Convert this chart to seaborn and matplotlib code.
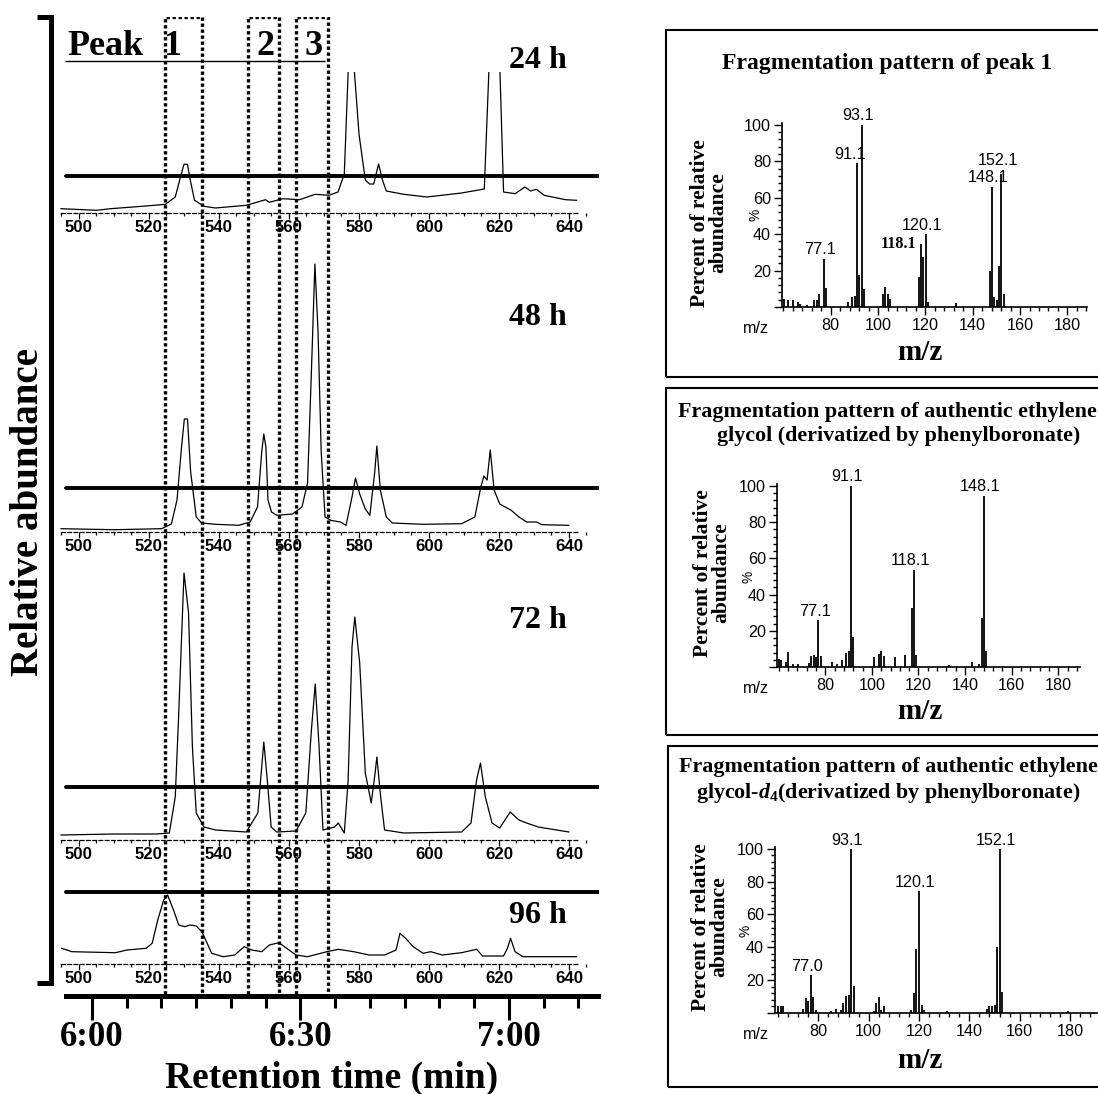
import matplotlib
matplotlib.use("Agg")
import matplotlib.pyplot as plt
import matplotlib.ticker as ticker
from matplotlib import font_manager
from matplotlib.lines import Line2D
from matplotlib.patches import Rectangle
import pandas as pd
import seaborn as sns

# ---------------- chromatograms (scan number, abundance) ----------------
trace_24h = [(494.8, 4.3), (505, 2.7), (509, 4.3), (518, 6.7), (521.5, 7.7), (524.7, 8.7),
             (527.5, 16), (529, 36), (530, 48.7), (531, 48.7), (531.8, 32.7), (533, 12.7),
             (535.7, 6.7), (539, 5), (547.8, 7.7), (553.3, 13.3), (554.4, 10.7), (558.2, 14.3),
             (563, 13.3), (567.5, 18.7), (571.4, 17.7), (574, 21), (575.8, 39), (577, 150),
             (578.5, 150), (580, 79), (581.8, 33), (583, 29), (584.2, 29), (585.6, 49),
             (586.7, 33), (587.8, 22), (592.8, 18.7), (599.4, 16), (609.3, 20), (615.8, 24),
             (617.2, 150), (620.2, 150), (621.3, 21), (624.6, 19.3), (627.4, 26), (629, 22),
             (630.7, 23.7), (632.9, 17.7), (639, 13.3), (642.2, 12.7)]
trace_48h = [(494.8, 3.3), (510, 2.3), (523.6, 3.3), (526.4, 8), (528, 32), (529.3, 85),
             (530.1, 113), (531.0, 113), (531.9, 60), (533.5, 15), (535, 9), (539, 7.7),
             (545.6, 6.7), (548.9, 10), (551, 25), (552.2, 80), (552.8, 98), (553.4, 85),
             (554, 32), (555, 20), (556.5, 16.7), (561, 18), (563.7, 25), (565.3, 49),
             (566.4, 160), (567.4, 268), (568.3, 200), (569.2, 80), (570.3, 15), (571.9, 11.7),
             (574.7, 10), (576.3, 6.7), (578, 35), (579, 54), (580.2, 38), (581.8, 23),
             (583.1, 16.7), (584.5, 60), (585.1, 86), (586.1, 42), (587.8, 15), (589.5, 9),
             (598.3, 7.7), (609.3, 8.3), (613.1, 15), (614.8, 45), (615.7, 56), (616.6, 52),
             (617.5, 82), (618.6, 42), (620.2, 28), (623.5, 21.7), (625.7, 15), (627.9, 10),
             (630.7, 10), (632.3, 7.3), (640, 6.7)]
trace_72h = [(494.8, 5), (510, 6), (522, 6), (525.8, 7), (527.5, 43), (528.5, 127),
             (530.0, 267), (531.3, 227), (532.4, 93), (533.5, 27), (535.7, 13), (539, 10),
             (547.8, 8), (551.1, 27), (552.8, 98), (553.8, 60), (554.9, 13), (556.5, 8),
             (562, 9), (564.8, 27), (566.4, 110), (567.5, 156), (568.6, 93), (569.7, 10),
             (573, 13), (574.1, 17), (575.8, 7), (576.9, 60), (578, 193), (578.8, 223),
             (580.2, 177), (581.8, 67), (583.5, 37), (584.6, 67), (585.1, 83), (586.2, 43),
             (587.3, 10), (592.8, 7), (609.3, 8), (612, 17), (613.6, 60), (614.7, 77),
             (616.1, 43), (618, 17), (620.2, 12), (623.2, 28), (625.7, 20), (627.9, 17),
             (631.2, 13), (640, 8)]
trace_96h = [(495, 15.7), (498, 12.3), (510.4, 11.3), (513.7, 14), (519.2, 15.7), (520.9, 20.7),
             (522.5, 44), (524.2, 64), (525.3, 69), (527, 54), (528.5, 39), (530.2, 37.3),
             (531.8, 39), (533.5, 38), (535.1, 32.3), (536.2, 24), (537.9, 10.7), (541.2, 7.3),
             (544.5, 9), (547.2, 17.3), (549.4, 14), (552.2, 12.3), (554.4, 19), (557.1, 21.3),
             (558.7, 17.3), (562, 9), (565.3, 7.3), (570.8, 12.3), (574.1, 14.7), (578.5, 12.3),
             (582.9, 9), (587.3, 9), (590.6, 14), (591.7, 30.7), (593.3, 25.7), (595.5, 17.3),
             (598.3, 10.7), (600.5, 12.3), (603.8, 9), (609.3, 11.3), (613.6, 14.7), (615.3, 8),
             (621.3, 8), (622.4, 15.7), (623.3, 25.7), (624.6, 12.3), (626.8, 7.3), (642.2, 7.3)]
hours = ['24 h', '48 h', '72 h', '96 h']
threshold = [37, 44, 53, 72]          # the thick horizontal line of each trace
window_lo = [524.5, 548.3, 562.0]     # dotted windows for peaks 1-3 (scan)
window_hi = [535.1, 557.1, 571.1]
peak_names = ['1', '2', '3']
chrom_ticks = [500, 520, 540, 560, 580, 600, 620, 640]

time_ticks = [360, 390, 420]          # seconds
time_labels = ['6:00', '6:30', '7:00']

# ---------------- mass spectra (m/z, % relative abundance) ----------------
mz_peak1 = [60.1, 62.1, 64.1, 66.1, 67.1, 70.1, 73.1, 74.1, 75.1, 77.1, 78.1, 87.1, 89.1, 90.1,
            91.1, 92.1, 93.1, 94.1, 102.1, 103.1, 104.1, 105.1, 117.1, 118.1, 119.1, 120.1,
            121.1, 133.1, 147.1, 148.1, 149.1, 150.1, 151.1, 152.1, 153.1]
ab_peak1 = [4.5, 3.6, 4, 2.7, 1.8, 1, 3.6, 4, 7, 26.6, 10.5, 2.7, 5.4, 6,
            78.8, 17.6, 100, 10, 7, 11, 7, 4.5, 16.7, 34.8, 27.5, 40,
            3, 2.2, 20, 66, 5.4, 3.6, 22.6, 73, 7]
ann_peak1 = [77.1, 91.1, 93.1, 120.1, 148.1, 152.1]
bold_ann_peak1 = [118.1]

mz_eg = [60.1, 61.1, 63.1, 64.1, 66.1, 68.1, 73.1, 74.1, 75.1, 76.1, 77.1, 78.1, 83.1, 85.1,
         87.1, 89.1, 90.1, 91.1, 92.1, 101.1, 103.1, 104.1, 105.1, 110.1, 114.1, 117.1, 118.1,
         119.1, 133.1, 143.1, 146.1, 147.1, 148.1, 149.1]
ab_eg = [4.6, 3.6, 2.5, 8.2, 1.8, 1.5, 2, 5.8, 6.4, 5.5, 25.9, 5.8, 2.7, 1.5,
         3.6, 8, 9, 100, 16.8, 5.5, 7, 9.1, 5.8, 5.5, 6.4, 32.8, 53.8,
         6.4, 1, 2.7, 1.5, 27, 94.5, 9.1]
ann_eg = [77.1, 91.1, 118.1, 148.1]

mz_egd4 = [64.0, 65.0, 66.0, 74.0, 75.0, 76.0, 77.0, 78.0, 79.0, 85.0, 87.0, 89.0, 90.0, 91.0,
           92.0, 93.1, 94.0, 102.0, 103.0, 104.0, 105.0, 106.0, 117.0, 118.0, 119.0, 120.1,
           121.0, 122.0, 131.0, 147.0, 148.0, 149.0, 150.0, 151.0, 152.1, 153.0, 179.0]
ab_egd4 = [4, 4.4, 4.4, 2.4, 9, 7, 23, 10, 2, 1.5, 2.4, 2, 6, 10.4,
           11, 100, 16.4, 1.5, 6, 9.6, 2, 4, 2, 12.4, 39, 74.4,
           5, 2, 1, 2.4, 4, 4, 5, 40.4, 100, 13, 1]
ann_egd4 = [77.0, 93.1, 120.1, 152.1]

mz_ticks = [80, 100, 120, 140, 160, 180]
pct_ticks = [0, 20, 40, 60, 80, 100]
titles_eg = ['Fragmentation pattern of authentic ethylene',
             'glycol (derivatized by phenylboronate)']
titles_egd4 = ['Fragmentation pattern of authentic ethylene',
               r'glycol-$\mathit{d}_4$(derivatized by phenylboronate)']

# label nudges (m/z, %) where the default spot would collide
label_nudge = {91.1: (-1.4, 0.0), 152.1: (0.0, 2.5)}


def has_font(name):
    return any(f.name == name for f in font_manager.fontManager.ttflist)


SERIF = 'Liberation Serif'
if has_font('Liberation Sans Narrow'):
    NARROW, NS = 'Liberation Sans Narrow', 1.0
else:
    NARROW, NS = 'Liberation Sans', 0.86

sns.set_theme(style='white')
plt.rcParams['font.family'] = [SERIF, 'DejaVu Serif']
plt.rcParams['mathtext.fontset'] = 'custom'
plt.rcParams['mathtext.rm'] = 'Liberation Serif:bold'
plt.rcParams['mathtext.it'] = 'Liberation Serif:italic:bold'
plt.rcParams['mathtext.bf'] = 'Liberation Serif:bold'

W, H = 1098, 1094
fig = plt.figure(figsize=(W / 100, H / 100), dpi=100)
fig.patch.set_facecolor('white')


def px_axes(x0, y0, x1, y1):
    ax = fig.add_axes([x0 / W, 1 - y1 / H, (x1 - x0) / W, (y1 - y0) / H])
    ax.patch.set_visible(False)
    return ax


def px_text(x, y, s, **kw):
    kw.setdefault('fontweight', 'bold')
    return fig.text(x / W, 1 - y / H, s, color='black', **kw)


def px_line(xs, ys, lw):
    fig.add_artist(Line2D([x / W for x in xs], [1 - y / H for y in ys], color='black',
                          linewidth=lw, solid_joinstyle='miter', solid_capstyle='butt'))


# ---------------- left: chromatograms ----------------
SCAN_LIM = (494.5, 648.6)
CH_X0, CH_X1 = 59.75, 599.1


def chrom_panel(trace, level, top_px, axis_px):
    ax = px_axes(CH_X0, top_px, CH_X1, axis_px)
    df = pd.DataFrame(trace, columns=['scan', 'abundance'])
    sns.lineplot(data=df, x='scan', y='abundance', ax=ax, color='black', linewidth=0.9,
                 estimator=None, sort=False)
    ax.axhline(level, xmin=0.012, color='black', linewidth=2.8)
    ax.set_xlim(SCAN_LIM)
    ax.set_ylim(0, axis_px - top_px)
    for side in ['top', 'right', 'left']:
        ax.spines[side].set_visible(False)
    sp = ax.spines['bottom']
    sp.set_linestyle((0, (3, 2)))
    sp.set_linewidth(0.9)
    sp.set_color('black')
    sp.set_bounds(495, 643)
    ax.set_xticks(chrom_ticks, [str(t) for t in chrom_ticks], fontfamily=NARROW,
                  fontweight='bold', fontsize=14 * NS)
    ax.xaxis.set_minor_locator(ticker.MultipleLocator(5))
    ax.tick_params(axis='x', which='major', bottom=True, direction='out', length=4.5,
                   width=0.9, pad=0.5, color='black', labelcolor='black')
    ax.tick_params(axis='x', which='minor', bottom=True, direction='out', length=2.5,
                   width=0.9, color='black')
    ax.set_yticks([])
    ax.set_xlabel('')
    ax.set_ylabel('')
    return ax


panel_top = [72, 240, 565, 870]
panel_axis = [213, 532, 840, 964]
hour_base = [68, 325, 628, 923]
for trace, level, top, bot, lab, yb in zip([trace_24h, trace_48h, trace_72h, trace_96h],
                                           threshold, panel_top, panel_axis, hours, hour_base):
    chrom_panel(trace, level, top, bot)
    px_text(538, yb, lab, fontsize=23, ha='center', va='baseline')

# dotted peak windows across all traces
ov = px_axes(CH_X0, 17, CH_X1, 994)
ov.set_xlim(SCAN_LIM)
ov.set_ylim(0, 1)
ov.axis('off')
for lo, hi in zip(window_lo, window_hi):
    ov.plot([lo, lo, hi, hi], [0, 1, 1, 0], color='black', linewidth=2.4,
            linestyle=(0, (1, 0.8)), dash_capstyle='butt')

px_text(106, 55, 'Peak', fontsize=26, ha='center', va='baseline')
for name, xc in zip(peak_names, [172, 265, 314]):
    px_text(xc, 55, name, fontsize=26, ha='center', va='baseline')
px_line([65, 325], [61, 61], 1.0)

# bracket and y label
px_line([37, 51, 51, 37], [17, 17, 983, 983], 3.6)
fig.text(38.5 / W, 1 - 512 / H, 'Relative abundance', rotation=90, rotation_mode='anchor',
         ha='center', va='baseline', fontsize=28, fontweight='bold', color='black')

# retention time axis
ax_t = px_axes(66, 975, 598, 996)
ax_t.set_xlim(356.26, 432.81)
for side in ['top', 'right', 'left']:
    ax_t.spines[side].set_visible(False)
ax_t.spines['bottom'].set_linewidth(3.6)
ax_t.spines['bottom'].set_color('black')
ax_t.set_xticks(time_ticks, time_labels, fontsize=25, fontweight='bold', fontfamily=SERIF)
ax_t.xaxis.set_minor_locator(ticker.MultipleLocator(5))
ax_t.tick_params(axis='x', which='major', bottom=True, direction='out', length=17, width=2.2,
                 pad=1, color='black', labelcolor='black')
ax_t.tick_params(axis='x', which='minor', bottom=True, direction='out', length=8.6, width=2.2,
                 color='black')
ax_t.set_yticks([])
px_text(332, 1088, 'Retention time (min)', fontsize=27, ha='center', va='baseline')


# ---------------- right: mass spectra ----------------
def spectrum_panel(rect, xlim, mz, ab, ann, bold_ann=()):
    x0, ytop, x1, ybot = rect
    ax = px_axes(x0, ytop, x1, ybot)
    df = pd.DataFrame({'mz': mz, 'ab': ab})
    ax.vlines(df['mz'], 0, df['ab'], color='black', linewidth=1.3)
    ax.set_xlim(xlim)
    ax.set_ylim(0, 101)
    for side in ['top', 'right']:
        ax.spines[side].set_visible(False)
    for side in ['left', 'bottom']:
        ax.spines[side].set_linewidth(1.2)
        ax.spines[side].set_color('black')
    ax.set_xticks(mz_ticks, [str(t) for t in mz_ticks], fontfamily=NARROW, fontsize=13.5 * NS)
    ax.set_yticks(pct_ticks, ['' if t == 0 else str(t) for t in pct_ticks], fontfamily=NARROW,
                  fontsize=13.5 * NS)
    ax.xaxis.set_minor_locator(ticker.AutoMinorLocator(5))
    ax.yaxis.set_minor_locator(ticker.AutoMinorLocator(5))
    ax.tick_params(which='major', bottom=True, left=True, direction='out', length=5.5,
                   width=1.0, pad=2.5, color='black', labelcolor='black')
    ax.tick_params(which='minor', bottom=True, left=True, direction='out', length=3,
                   width=1.0, color='black')
    for m, a in zip(mz, ab):
        if m in ann:
            dx, dy = label_nudge.get(m, (0.0, 0.0)) if bold_ann else (0.0, 0.0)
            ax.text(m - 1.6 + dx, a + 2.5 + dy, f'{m:.1f}', ha='center', va='baseline',
                    fontfamily=NARROW, fontsize=13.5 * NS, color='black', clip_on=False)
        if m in bold_ann:
            ax.text(m - 2.0, a - 2.2, f'{m:.1f}', ha='right', va='baseline',
                    fontfamily=SERIF, fontweight='bold', fontsize=11.5, color='black')
    ax.set_xlabel('')
    ax.set_ylabel('')
    return ax


def box(x0, y0, x1, y1):
    fig.add_artist(Rectangle((x0 / W, 1 - y1 / H), (x1 - x0) / W, (y1 - y0) / H,
                             transform=fig.transFigure, fill=False, edgecolor='black',
                             linewidth=1.5))


def spectrum_labels(axis_y, pct_xy, ylab_xy, mz_y):
    px_text(756, axis_y + 26, 'm/z', fontsize=13.5 * NS, fontfamily=NARROW, fontweight='normal',
            ha='center', va='baseline')
    px_text(pct_xy[0], pct_xy[1], '%', fontsize=11.5 * NS, fontfamily=NARROW, fontweight='normal',
            rotation=90, ha='center', va='center')
    px_text(ylab_xy[0], ylab_xy[1], 'Percent of relative\nabundance', fontsize=15.5,
            rotation=90, ha='center', va='center', multialignment='center', linespacing=0.85)
    px_text(920, mz_y, 'm/z', fontsize=21, ha='center', va='baseline')


# panel A: peak 1
box(666, 30, 1110, 377)
px_text(887, 69, 'Fragmentation pattern of peak 1', fontsize=17, ha='center', va='baseline')
spectrum_panel((782, 123, 1087, 307), (59.4, 188.3), mz_peak1, ab_peak1, ann_peak1,
               bold_ann_peak1)
spectrum_labels(307, (755, 215), (709, 223), 360)

# panel B: ethylene glycol
box(666, 388, 1110, 735)
px_text(678, 417, titles_eg[0], fontsize=15.8, ha='left', va='baseline')
px_text(899, 441, titles_eg[1], fontsize=15.8, ha='center', va='baseline')
spectrum_panel((777, 484, 1080, 667), (59.3, 189.3), mz_eg, ab_eg, ann_eg)
spectrum_labels(667, (748, 577), (712, 573), 719)

# panel C: ethylene glycol-d4
box(668, 746, 1110, 1087)
px_text(679, 772, titles_egd4[0], fontsize=15.8, ha='left', va='baseline')
px_text(888, 798, titles_egd4[1], fontsize=15.8, ha='center', va='baseline')
spectrum_panel((775, 847, 1098, 1013), (62.8, 191.1), mz_egd4, ab_egd4, ann_egd4)
spectrum_labels(1013, (746, 931), (710, 927), 1068)

fig.savefig('out.png', dpi=100, facecolor='white')
